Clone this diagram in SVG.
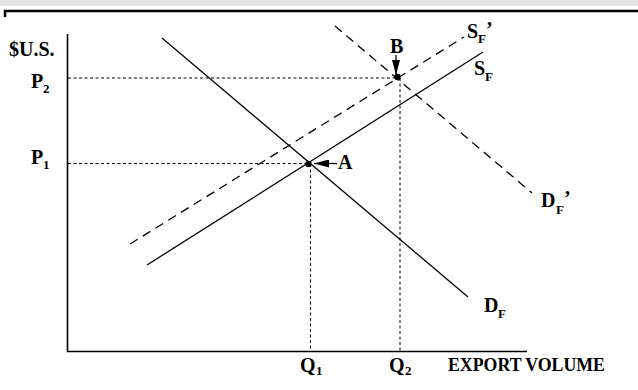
<svg xmlns="http://www.w3.org/2000/svg" width="638" height="390" viewBox="0 0 638 390">
<style>
.t{font-family:"Liberation Serif","Times New Roman",serif;font-weight:bold;fill:#000}
.m{font-size:20px}
.s{font-size:13px}
.ln{stroke:#000;stroke-width:1.3;fill:none}
.da{stroke:#000;stroke-width:1.3;fill:none;stroke-dasharray:9 6}
.dt{stroke:#000;stroke-width:1;fill:none;stroke-dasharray:3 2.5}
.ax{stroke:#000;stroke-width:1.6;fill:none}
</style>
<defs>
<marker id="ah" viewBox="0 0 10 10" refX="10" refY="5" markerWidth="15" markerHeight="8" markerUnits="userSpaceOnUse" orient="auto" preserveAspectRatio="none">
<path d="M0,0 L10,5 L0,10 Z" fill="#000"/>
</marker>
</defs>
<rect x="0" y="0" width="638" height="6" fill="#e5e5e5"/>
<path d="M5,17 V11 H638" stroke="#000" stroke-width="2.6" fill="none"/>
<g id="axes">
<path class="ax" d="M67.5,34 V351.5 H527"/>
</g>
<g id="connectors">
<line id="DF" class="ln" x1="162" y1="38" x2="468" y2="297"/>
<line id="SF" class="ln" x1="147" y1="265" x2="483" y2="52"/>
<line id="SFp" class="da" x1="130" y1="244" x2="464" y2="37"/>
<line id="DFp" class="da" x1="335" y1="26" x2="532" y2="193"/>
<line class="dt" x1="68" y1="78" x2="398" y2="78"/>
<line class="dt" x1="400" y1="78" x2="400" y2="351"/>
<line class="dt" x1="68" y1="163.5" x2="309" y2="163.5"/>
<line class="dt" x1="310.5" y1="164" x2="310.5" y2="351"/>
<line class="ln" x1="337" y1="163.5" x2="314" y2="163.5" marker-end="url(#ah)"/>
<line class="ln" x1="396" y1="55" x2="396" y2="75" marker-end="url(#ah)"/>
</g>
<g id="pointA"><circle cx="308.5" cy="164" r="3.2" fill="#000"/><text class="t m" x="338" y="169">A</text></g>
<g id="pointB"><circle cx="397.5" cy="77" r="3.2" fill="#000"/><text class="t m" x="390" y="53">B</text></g>
<g id="ylabel"><text class="t m" x="9" y="56">$U.S.</text></g>
<g id="P2"><text class="t m" x="31" y="88">P</text><text class="t s" x="43" y="93">2</text></g>
<g id="P1"><text class="t m" x="31" y="164">P</text><text class="t s" x="43" y="169">1</text></g>
<g id="Q1"><text class="t m" x="300" y="372">Q</text><text class="t s" x="316" y="375">1</text></g>
<g id="Q2"><text class="t m" x="389" y="372">Q</text><text class="t s" x="405" y="375">2</text></g>
<g id="xlabel"><text class="t" style="font-size:18px" x="448" y="371" textLength="157" lengthAdjust="spacingAndGlyphs">EXPORT VOLUME</text></g>
<g id="lDF"><text class="t m" x="484" y="312">D</text><text class="t s" x="498" y="318">F</text></g>
<g id="lDFp"><text class="t m" x="541" y="207">D</text><text class="t s" x="556" y="214">F</text><text class="t m" x="564" y="205">’</text></g>
<g id="lSFp"><text class="t m" x="467" y="38">S</text><text class="t s" x="478" y="43">F</text><text class="t m" x="486" y="36">’</text></g>
<g id="lSF"><text class="t m" x="474" y="75">S</text><text class="t s" x="485" y="81">F</text></g>
</svg>
